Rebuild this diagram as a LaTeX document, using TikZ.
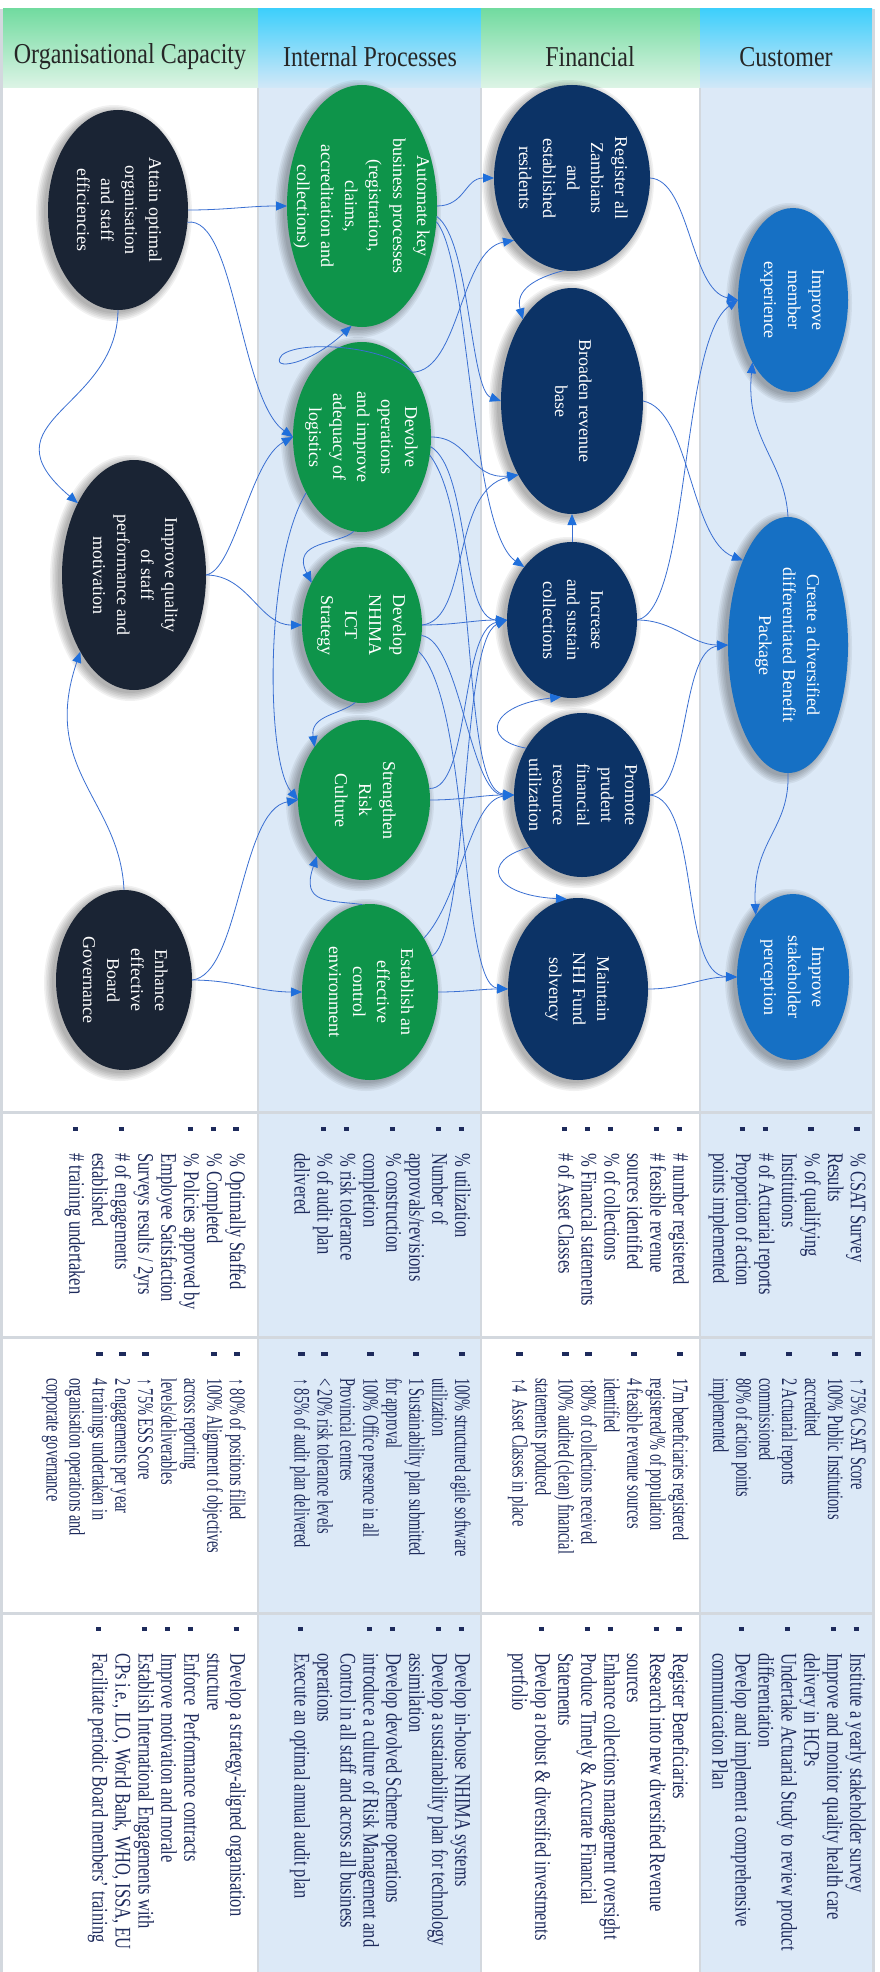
\documentclass[tikz,border=0pt]{standalone}
\usepackage{fontspec}
\setmainfont{Liberation Serif}
\usepackage{graphicx}
\usetikzlibrary{shapes.geometric,arrows.meta}

\definecolor{orgc}{HTML}{1A2434}
\definecolor{ipc}{HTML}{0E944A}
\definecolor{finc}{HTML}{0C3366}
\definecolor{cusc}{HTML}{1670C4}
\definecolor{paleblue}{HTML}{DCE9F7}
\definecolor{lnk}{HTML}{3A6FD2}
\definecolor{tipc}{HTML}{1F6FDB}
\definecolor{listc}{HTML}{1E2B5C}
\definecolor{rulec}{HTML}{D3D8DE}
\definecolor{hgreenT}{HTML}{72DBA0}
\definecolor{hgreenB}{HTML}{DDF4E6}
\definecolor{hblueT}{HTML}{3ECFFB}
\definecolor{hblueB}{HTML}{D2E8F8}

% text set sideways inside the ellipses
\newcommand\ovtext[1]{\rotatebox{-90}{\fontsize{18}{24}\selectfont\begin{tabular}{@{}c@{}}#1\end{tabular}}}
% one bulleted entry of the measures / targets / initiatives lists
\newcommand\itm[1]{\par\noindent\hangindent=26pt\hangafter=1\makebox[26pt][l]{\raisebox{2.5pt}{\rule{4pt}{4pt}}}#1}
% a sideways list block: font size, line skip, cross stretch, entries
\newcommand\blk[4]{\rotatebox{-90}{\scalebox{1}[#3]{\parbox[t]{330pt}{\color{listc}\fontsize{#1}{#2}\selectfont\rightskip=0pt plus 1fil\parindent=0pt #4}}}}
\newcommand\kpiblk[1]{\blk{16.5}{17}{1.35}{#1}}
\newcommand\tgtblk[1]{\blk{14.3}{14.8}{1.55}{#1}}
\newcommand\hdrtext[1]{\scalebox{1}[1.2]{\fontsize{24}{28}\selectfont #1}}

% objective ellipse with a soft shadow: style, name, x, y, half width, half height
\newcommand\objnode[6]{%
  \foreach \k in {0,...,5}{\fill[black, opacity=0.055] (#3-4,#4-3) ellipse ({#5+1.6*\k} and {#6+1.6*\k});}
  \node[#1, minimum width={(2*#5)*1pt}, minimum height={(2*#6)*1pt}] (#2) at (#3,#4) {};}

\tikzset{
  ell/.style={ellipse, inner sep=0pt, outer sep=0pt},
  orgn/.style={ell, fill=orgc},
  ipn/.style={ell, fill=ipc},
  finn/.style={ell, fill=finc},
  cusn/.style={ell, fill=cusc},
  etxt/.style={text=white, inner sep=0pt},
  hdr/.style={text=black!85, inner sep=0pt},
  blkn/.style={inner sep=0pt, anchor=north east},
  cn/.style={draw=lnk, line width=0.8pt, -{Triangle[length=11pt,width=9pt,color=tipc]}},
  sep/.style={draw=rulec, line width=3pt},
  vsep/.style={draw=rulec, line width=1.5pt},
}

\begin{document}
\begin{tikzpicture}[x=1pt,y=1pt]
\useasboundingbox (0,0) rectangle (880,-1972);
\fill[white] (0,0) rectangle (880,-1972);

% column backgrounds
\fill[paleblue] (258,-88) rectangle (481,-1972);
\fill[paleblue] (700,-88) rectangle (872,-1972);

% column headers
\shade[top color=hgreenT, bottom color=hgreenB] (3,-9) rectangle (258,-88);
\shade[top color=hblueT, bottom color=hblueB] (258,-9) rectangle (481,-88);
\shade[top color=hgreenT, bottom color=hgreenB] (481,-9) rectangle (700,-88);
\shade[top color=hblueT, bottom color=hblueB] (700,-9) rectangle (872,-88);

% borders and separators
\draw[sep] (1.5,-9) -- (1.5,-1972);
\draw[sep] (873.5,-9) -- (873.5,-1972);
\draw[vsep] (258,-88) -- (258,-1972);
\draw[vsep] (481,-88) -- (481,-1972);
\draw[vsep] (700,-88) -- (700,-1972);
\draw[sep] (3,-1112) -- (872,-1112);
\draw[sep] (3,-1337) -- (872,-1337);
\draw[sep] (3,-1613) -- (872,-1613);

\node[hdr] (h-org) at (130,-57) {\hdrtext{Organisational Capacity}};
\node[hdr] (h-ip) at (370,-57) {\hdrtext{Internal Processes}};
\node[hdr] (h-fin) at (590,-57) {\hdrtext{Financial}};
\node[hdr] (h-cus) at (786,-57) {\hdrtext{Customer}};

% ---- objectives ----
\objnode{orgn}{att}{118}{-210}{70}{100}
\objnode{orgn}{imp}{134}{-575}{72}{115}
\objnode{orgn}{enh}{124}{-980}{68}{90}

\objnode{ipn}{aut}{362}{-206}{75}{121}
\objnode{ipn}{dev}{362}{-437}{69}{95}
\objnode{ipn}{ict}{362}{-625}{60}{78}
\objnode{ipn}{risk}{364}{-800}{66}{80}
\objnode{ipn}{ctrl}{370}{-992}{68}{88}

\objnode{finn}{reg}{572}{-178}{78}{93}
\objnode{finn}{brd}{572}{-401}{71}{113}
\objnode{finn}{inc}{572}{-620}{65}{78}
\objnode{finn}{pru}{582}{-795}{68}{82}
\objnode{finn}{sol}{578}{-989}{70}{91}

\objnode{cusn}{mem}{793}{-300}{55}{92}
\objnode{cusn}{pkg}{788}{-645}{60}{128}
\objnode{cusn}{stk}{793}{-977}{56}{83}

\node[etxt] (att-t) at (att.center) {\ovtext{Attain optimal\\organisation\\and staff\\efficiencies}};
\node[etxt] (imp-t) at (imp.center) {\ovtext{Improve quality\\of staff\\performance and\\motivation}};
\node[etxt] (enh-t) at (enh.center) {\ovtext{Enhance\\effective\\Board\\Governance}};
\node[etxt] (aut-t) at (aut.center) {\ovtext{Automate key\\business processes\\(registration,\\claims,\\accreditation and\\collections)}};
\node[etxt] (dev-t) at (dev.center) {\ovtext{Devolve\\operations\\and improve\\adequacy of\\logistics}};
\node[etxt] (ict-t) at (ict.center) {\ovtext{Develop\\NHIMA\\ICT\\Strategy}};
\node[etxt] (risk-t) at (risk.center) {\ovtext{Strengthen\\Risk\\Culture}};
\node[etxt] (ctrl-t) at (ctrl.center) {\ovtext{Establish an\\effective\\control\\environment}};
\node[etxt] (reg-t) at (reg.center) {\ovtext{Register all\\Zambians\\and\\established\\residents}};
\node[etxt] (brd-t) at (brd.center) {\ovtext{Broaden revenue\\base}};
\node[etxt] (inc-t) at (inc.center) {\ovtext{Increase\\and sustain\\collections}};
\node[etxt] (pru-t) at (pru.center) {\ovtext{Promote\\prudent\\financial\\resource\\utilization}};
\node[etxt] (sol-t) at (sol.center) {\ovtext{Maintain\\NHI Fund\\solvency}};
\node[etxt] (mem-t) at (mem.center) {\ovtext{Improve\\member\\experience}};
\node[etxt] (pkg-t) at (pkg.center) {\ovtext{Create a diversified\\differentiated Benefit\\Package}};
\node[etxt] (stk-t) at (stk.center) {\ovtext{Improve\\stakeholder\\perception}};

% ---- cause and effect links ----
\draw[cn] (att.east) to[out=0,in=180] (aut.west);
\draw[cn] (att.-10) .. controls (235,-215) and (240,-400) .. (dev.west);
\draw[cn] (att.south) .. controls (117,-410) and (-20,-420) .. (imp.128);
\draw[cn] (imp.east) .. controls (235,-570) and (250,-460) .. (dev.west);
\draw[cn] (imp.east) to[out=0,in=180] (ict.west);
\draw[cn] (enh.north) .. controls (120,-800) and (40,-770) .. (imp.235);
\draw[cn] (enh.east) .. controls (240,-975) and (240,-810) .. (risk.west);
\draw[cn] (enh.east) to[out=0,in=180] (ctrl.west);

\draw[cn] (dev.52) .. controls (385,-345) and (300,-340) .. (282,-355) .. controls (268,-372) and (310,-365) .. (aut.265);
\draw[cn] (dev.52) .. controls (460,-370) and (460,-250) .. (reg.227);
\draw[cn] (aut.east) .. controls (465,-206) and (465,-178) .. (reg.west);
\draw[cn] (aut.-8) .. controls (470,-240) and (470,-390) .. (brd.west);
\draw[cn] (aut.-12) .. controls (470,-260) and (470,-530) .. (inc.132);
\draw[cn] (dev.east) .. controls (470,-437) and (470,-480) .. (brd.234);
\draw[cn] (dev.-8) .. controls (470,-470) and (460,-620) .. (inc.west);
\draw[cn] (dev.-15) .. controls (480,-520) and (460,-790) .. (pru.west);
\draw[cn] (dev.265) .. controls (340,-545) and (290,-540) .. (ict.140);
\draw[cn] (dev.225) .. controls (265,-560) and (265,-760) .. (risk.west);
\draw[cn] (ict.265) .. controls (340,-715) and (310,-715) .. (risk.133);
\draw[cn] (ctrl.95) .. controls (330,-900) and (300,-905) .. (risk.230);
\draw[cn] (ict.east) .. controls (470,-620) and (450,-490) .. (brd.234);
\draw[cn] (ict.east) to[out=0,in=180] (inc.west);
\draw[cn] (ict.-10) .. controls (460,-640) and (470,-795) .. (pru.west);
\draw[cn] (ict.-25) .. controls (470,-700) and (460,-985) .. (sol.west);
\draw[cn] (risk.east) to[out=0,in=180] (pru.west);
\draw[cn] (risk.10) .. controls (470,-790) and (460,-630) .. (inc.west);
\draw[cn] (ctrl.45) .. controls (460,-900) and (470,-800) .. (pru.west);
\draw[cn] (ctrl.30) .. controls (470,-930) and (460,-640) .. (inc.west);
\draw[cn] (ctrl.east) to[out=0,in=180] (sol.west);

\draw[cn] (inc.north) -- (brd.south);
\draw[cn] (reg.265) .. controls (535,-278) and (515,-290) .. (brd.121);
\draw[cn] (pru.140) .. controls (480,-740) and (490,-705) .. (inc.262);
\draw[cn] (pru.225) .. controls (480,-860) and (490,-895) .. (sol.97);

\draw[cn] (reg.east) .. controls (690,-180) and (690,-290) .. (mem.west);
\draw[cn] (brd.east) .. controls (690,-410) and (690,-540) .. (pkg.118);
\draw[cn] (inc.east) .. controls (690,-610) and (680,-340) .. (mem.west);
\draw[cn] (inc.east) to[out=0,in=180] (pkg.west);
\draw[cn] (pru.east) .. controls (690,-790) and (680,-650) .. (pkg.west);
\draw[cn] (pru.east) .. controls (700,-800) and (680,-975) .. (stk.west);
\draw[cn] (sol.east) to[out=0,in=180] (stk.west);
\draw[cn] (pkg.south) .. controls (790,-830) and (752,-840) .. (stk.121);
\draw[cn] (pkg.north) .. controls (785,-460) and (745,-440) .. (mem.237);

% ---- measures ----
\node[blkn] (kpi-cus) at (866,-1127) {\kpiblk{\itm{\% CSAT Survey\\Results}\itm{\% of qualifying\\Institutions}\itm{\# of Actuarial reports}\itm{Proportion of action\\points implemented}}};
\node[blkn] (kpi-fin) at (689,-1127) {\kpiblk{\itm{\# number registered}\itm{\# feasible revenue\\sources identified}\itm{\% of collections}\itm{\% Financial statements}\itm{\# of Asset Classes}}};
\node[blkn] (kpi-ip) at (471,-1127) {\kpiblk{\itm{\% utilization}\itm{Number of\\approvals/revisions}\itm{\% construction\\completion}\itm{\% risk tolerance}\itm{\% of audit plan\\delivered}}};
\node[blkn] (kpi-org) at (246,-1127) {\kpiblk{\itm{\% Optimally Staffed}\itm{\% Completed}\itm{\% Policies approved by\\Employee Satisfaction\\Surveys results / 2yrs}\itm{\# of engagements\\established}\itm{\# training undertaken}}};

% ---- targets ----
\node[blkn] (tgt-cus) at (866,-1352) {\tgtblk{\itm{↑ 75\% CSAT Score}\itm{100\% Public Institutions\\accredited}\itm{2 Actuarial reports\\commissioned}\itm{80\% of action points\\implemented}}};
\node[blkn] (tgt-fin) at (689,-1352) {\tgtblk{\itm{17m beneficiaries registered\\registered/\% of population}\itm{4 feasible revenue sources\\identified}\itm{↑80\% of collections received}\itm{100\% audited (clean) financial\\statements produced}\itm{↑4\ \ Asset Classes in place}}};
\node[blkn] (tgt-ip) at (471,-1352) {\tgtblk{\itm{100\% structured agile software\\utilization}\itm{1 Sustainability plan submitted\\for approval}\itm{100\% Office presence in all\\Provincial centres}\itm{< 20\% risk tolerance levels}\itm{↑ 85\% of audit plan delivered}}};
\node[blkn] (tgt-org) at (246,-1352) {\tgtblk{\itm{↑ 80\% of positions filled}\itm{100\% Alignment of objectives\\across reporting\\levels/deliverables}\itm{↑ 75\% ESS Score}\itm{2 engagements per year}\itm{4 trainings undertaken in\\organisation operations and\\corporate governance}}};

% ---- initiatives ----
\node[blkn] (ini-cus) at (866,-1627) {\kpiblk{\itm{Institute a yearly stakeholder survey}\itm{Improve and monitor quality health care\\delivery in HCPs}\itm{Undertake Actuarial Study to review product\\differentiation}\itm{Develop and implement a comprehensive\\communication Plan}}};
\node[blkn] (ini-fin) at (689,-1627) {\kpiblk{\itm{Register Beneficiaries}\itm{Research into new diversified Revenue\\sources}\itm{Enhance collections management oversight}\itm{Produce Timely \& Accurate Financial\\Statements}\itm{Develop a robust \& diversified investments\\portfolio}}};
\node[blkn] (ini-ip) at (471,-1627) {\kpiblk{\itm{Develop in-house NHIMA systems}\itm{Develop a sustainability plan for technology\\assimilation}\itm{Develop devolved Scheme operations}\itm{introduce a culture of Risk Management and\\Control in all staff and across all business\\operations}\itm{Execute an optimal annual audit plan}}};
\node[blkn] (ini-org) at (246,-1627) {\kpiblk{\itm{Develop a strategy-aligned organisation\\structure}\itm{Enforce\ \ Performance contracts}\itm{Improve motivation and morale}\itm{Establish International Engagements with\\CPs i.e., ILO, World Bank, WHO, ISSA, EU}\itm{Facilitate periodic Board members' training}}};

\end{tikzpicture}
\end{document}
